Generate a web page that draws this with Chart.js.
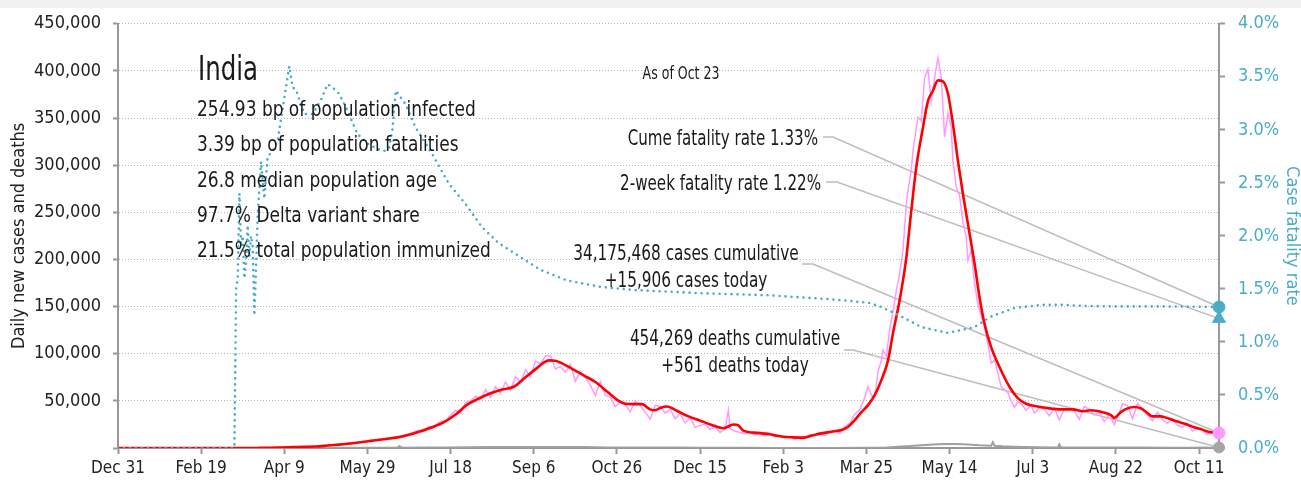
<!DOCTYPE html>
<html>
<head>
<meta charset="utf-8">
<script src="https://cdn.jsdelivr.net/npm/chart.js@4.4.0/dist/chart.umd.min.js"></script>
<style>
  html, body { margin: 0; padding: 0; background: #fff; }
  #wrap { width: 1301px; height: 484px; }
</style>
</head>
<body>
<div id="wrap"><canvas id="chart" width="1301" height="484"></canvas></div>
<script>
// day 0 = Dec 31 2019, last day = Oct 23 2021
const lastDay = 662;
const tickLabels = ['Dec 31', 'Feb 19', 'Apr 9', 'May 29', 'Jul 18', 'Sep 6', 'Oct 26',
  'Dec 15', 'Feb 3', 'Mar 25', 'May 14', 'Jul 3', 'Aug 22', 'Oct 11'];

// [day, 7-day average of new cases]
const avgCases = [[0,0],[63,0],[70,10],[77,20],[84,70],[91,170],[98,500],[105,900],[112,1300],
  [119,1600],[126,2600],[133,3600],[140,4800],[147,6300],[154,7900],[161,9600],[168,11300],
  [175,14000],[182,17700],[189,22000],[196,27400],[203,35500],[210,46000],[217,52500],
  [224,58000],[231,62000],[238,65000],[245,75000],[252,85000],[256,90500],[259,93000],
  [263,92500],[266,90500],[273,84000],[280,77000],[287,70000],[294,60000],[301,50000],
  [305,47000],[310,46500],[315,46500],[320,41000],[323,40000],[326,42500],[330,44000],
  [336,39500],[343,33500],[350,29000],[357,24500],[364,21000],[366,22000],[370,25000],
  [373,24000],[376,18500],[385,16000],[392,14500],[400,12000],[406,11300],[412,11000],
  [417,13000],[423,15500],[429,17300],[435,19000],[439,22600],[443,29600],[447,38000],
  [451,45500],[455,56000],[459,72000],[463,93000],[466,122000],[470,157000],[474,202000],
  [477,252000],[480,298000],[484,340000],[487,368000],[490,379000],[493,390000],[496,389000],
  [499,376000],[502,344000],[505,305000],[508,270000],[511,238000],[515,196000],[518,160000],
  [521,132000],[525,107000],[530,86000],[536,65000],[541,53000],[546,47000],[553,44000],
  [560,42000],[567,41000],[574,41000],[580,39000],[585,40000],[592,38000],[597,35000],
  [599,32000],[603,38000],[607,42000],[611,43500],[615,42000],[619,37000],[622,33500],
  [627,33500],[632,31000],[637,28000],[642,25500],[647,22000],[652,19500],[656,17000],
  [659,16500],[662,16500]];

// [day, reported new cases]
const dailyCases = [[0,0],[30,0],[60,0],[70,10],[80,20],[90,150],[95,500],[100,600],[104,1000],
  [108,1200],[112,1300],[116,1500],[120,1700],[124,2500],[128,3300],[132,3500],[136,4200],
  [140,5500],[144,6200],[148,6600],[152,8400],[156,9000],[160,9800],[164,11000],[168,11500],
  [172,13500],[176,15400],[180,18500],[184,19100],[187,22500],[190,23000],[194,28500],
  [197,29000],[200,34800],[203,40200],[206,37100],[209,48500],[212,49900],[215,55000],
  [218,52000],[221,62000],[224,53600],[227,65000],[230,57900],[233,70000],[236,61400],
  [239,75700],[242,69900],[245,83000],[248,75800],[251,92000],[254,89700],[257,97600],
  [260,98000],[263,83800],[266,86500],[269,80500],[272,88600],[275,70600],[278,81400],
  [281,74400],[284,66700],[287,55300],[290,70500],[293,55700],[296,54000],[299,43900],
  [302,48600],[305,46200],[308,38300],[311,50200],[314,44900],[317,38000],[320,30500],
  [323,45200],[326,44400],[329,37000],[332,41300],[335,31100],[338,36600],[341,26600],
  [344,32000],[347,22000],[350,24000],[353,25100],[356,19500],[359,22300],[362,16400],
  [365,20000],[367,40000],[368,20500],[371,18100],[374,16500],[377,15200],[380,16900],
  [383,13800],[386,15200],[389,12700],[392,14500],[395,11800],[398,12900],[401,11000],
  [404,12100],[407,9100],[410,11600],[413,10500],[416,14200],[419,13200],[422,16600],
  [425,13000],[428,17400],[431,18700],[434,15400],[437,22800],[440,26300],[443,35900],
  [446,40700],[449,53500],[451,65000],[453,56200],[455,54000],[457,81500],[459,93200],
  [460,104000],[462,97000],[464,126000],[466,145000],[468,167000],[470,185000],[472,210000],
  [474,259000],[475,273000],[477,295000],[478,315000],[480,340000],[481,351000],[483,347000],
  [485,393000],[487,402000],[489,368000],[491,393000],[493,414000],[495,393000],[497,330000],
  [499,355000],[501,340000],[502,305000],[504,277000],[506,268000],[508,240000],[510,224000],
  [511,199000],[513,210000],[515,174000],[517,153000],[519,140000],[521,128000],[523,111000],
  [525,90000],[527,93000],[529,80000],[531,65000],[533,62000],[535,59000],[537,50000],
  [539,43000],[541,49000],[543,47000],[546,40000],[549,46000],[551,37000],[554,43000],
  [557,41000],[560,34000],[563,42000],[566,30000],[569,41000],[572,43000],[575,39000],
  [578,30500],[581,44000],[584,41000],[587,35000],[590,38000],[593,28000],[596,36000],
  [599,25000],[602,37000],[604,47000],[607,45000],[610,31000],[613,47000],[616,42000],
  [619,35000],[622,29000],[625,38000],[628,30000],[631,26000],[634,31000],[637,24000],
  [640,22000],[643,26000],[646,18000],[649,21000],[652,19000],[655,14300],[658,18400],
  [660,16800],[662,15906]];

// [day, reported new deaths]
const dailyDeaths = [[0,0],[70,0],[84,5],[98,40],[112,40],[126,100],[140,140],[154,220],
  [168,330],[169,2000],[171,340],[182,420],[196,550],[210,750],[224,950],[238,1000],
  [252,1100],[259,1150],[266,1100],[280,950],[294,650],[308,500],[322,500],[336,450],
  [350,350],[364,260],[378,180],[392,130],[406,100],[420,100],[434,120],[448,250],
  [462,650],[469,1300],[476,2000],[483,3000],[490,3800],[497,4200],[504,4200],[511,3800],
  [518,3000],[525,2500],[526,6100],[527,2400],[532,1800],[539,1300],[546,1000],[553,800],
  [565,600],[566,3900],[567,600],[574,550],[588,500],[602,450],[616,400],[630,300],
  [644,250],[655,550],[656,300],[662,561]];

// [day, cumulative case fatality rate %]
const fatalityRate = [[0,0],[70,0],[71,1.5],[72,1.6],[73,2.4],[74,1.9],[75,2.0],[76,1.6],
  [77,1.75],[78,2.1],[79,1.8],[80,2.0],[81,1.9],[82,1.25],[83,1.7],[84,2.2],[86,2.7],
  [88,2.35],[90,2.75],[93,2.8],[96,2.9],[99,3.2],[103,3.6],[105,3.4],[107,3.38],[110,3.24],
  [112,3.15],[117,3.15],[122,3.28],[126,3.43],[129,3.4],[133,3.34],[138,3.18],[144,2.96],
  [150,2.87],[156,2.82],[160,2.8],[163,2.83],[165,3.0],[167,3.37],[173,3.24],[179,3.02],
  [189,2.77],[199,2.49],[209,2.3],[219,2.08],[229,1.93],[239,1.83],[242,1.8],[254,1.68],
  [270,1.58],[290,1.52],[310,1.49],[350,1.46],[391,1.44],[431,1.4],[451,1.37],[459,1.33],
  [471,1.24],[483,1.14],[499,1.085],[515,1.14],[525,1.24],[539,1.32],[555,1.35],[569,1.35],
  [579,1.34],[599,1.335],[630,1.335],[662,1.33]];

const twoWeekRate = 1.22;
const cumCases = 34175468;
const cumDeaths = 454269;
const country = 'India';
const statLines = [
  '254.93 bp of population infected',
  '3.39 bp of population fatalities',
  '26.8 median population age',
  '97.7% Delta variant share',
  '21.5% total population immunized'
];
const asOf = 'As of Oct 23';

const FONT = '"DejaVu Sans Condensed", "DejaVu Sans", sans-serif';
const TEAL = '#4bacc6';
const PINK = '#ff99ff';

const toXY = arr => arr.map(([d, v]) => ({ x: d, y: v }));
const last = arr => arr[arr.length - 1][1];
const fmt = n => n.toLocaleString('en-US');

Chart.defaults.font.family = FONT;
Chart.defaults.color = '#222';

// narrow the text horizontally so it reads like a condensed face
function label(c, text, x, y, align, size, squeeze) {
  c.save();
  c.translate(x, y);
  c.scale(squeeze, 1);
  c.font = size + 'px ' + FONT;
  c.textAlign = align;
  c.fillText(text, 0, 0);
  c.restore();
}

const notes = {
  id: 'notes',
  beforeDraw(chart) {
    const c = chart.ctx;
    c.save();
    c.fillStyle = '#f0f0f0';
    c.fillRect(0, 0, chart.width, 8);
    c.restore();
  },
  beforeDatasetsDraw(chart) {
    const c = chart.ctx, sx = chart.scales.x, sy = chart.scales.y, sr = chart.scales.y1;
    const ex = sx.getPixelForValue(lastDay);
    const leaders = [
      [823, 137, 833, sr.getPixelForValue(last(fatalityRate))],
      [826, 182, 837, sr.getPixelForValue(twoWeekRate)],
      [802, 264, 813, sy.getPixelForValue(last(dailyCases))],
      [844, 350, 853, sy.getPixelForValue(last(dailyDeaths))]
    ];
    c.save();
    c.strokeStyle = '#bdbdbd';
    c.lineWidth = 1.5;
    leaders.forEach(([x0, y0, x1, ey]) => {
      c.beginPath();
      c.moveTo(x0, y0);
      c.lineTo(x1, y0);
      c.lineTo(ex, ey);
      c.stroke();
    });
    c.restore();
  },
  afterDraw(chart) {
    const c = chart.ctx;
    c.save();
    c.fillStyle = '#1a1a1a';
    c.textBaseline = 'alphabetic';
    label(c, country, 198, 80, 'left', 34, 0.8);
    statLines.forEach((t, i) => label(c, t, 197, 116 + i * 35.3, 'left', 21, 0.9));

    label(c, asOf, 681, 79, 'center', 17, 0.82);

    label(c, 'Cume fatality rate ' + last(fatalityRate).toFixed(2) + '%', 818, 145, 'right', 21, 0.8);
    label(c, '2-week fatality rate ' + twoWeekRate.toFixed(2) + '%', 821, 190, 'right', 21, 0.8);

    label(c, fmt(cumCases) + ' cases cumulative', 686, 260, 'center', 21, 0.81);
    label(c, '+' + fmt(last(dailyCases)) + ' cases today', 686, 287, 'center', 21, 0.81);
    label(c, fmt(cumDeaths) + ' deaths cumulative', 735, 345, 'center', 21, 0.81);
    label(c, '+' + fmt(last(dailyDeaths)) + ' deaths today', 735, 372, 'center', 21, 0.81);
    c.restore();
  }
};

new Chart(document.getElementById('chart').getContext('2d'), {
  type: 'line',
  data: {
    datasets: [
      {
        type: 'scatter', yAxisID: 'y1', clip: false,
        data: [{ x: lastDay, y: last(fatalityRate) }],
        pointStyle: 'circle', pointRadius: 6, backgroundColor: TEAL, borderColor: TEAL
      },
      {
        type: 'scatter', yAxisID: 'y1', clip: false,
        data: [{ x: lastDay, y: twoWeekRate }],
        pointStyle: 'triangle', pointRadius: 7.5, backgroundColor: TEAL, borderColor: TEAL
      },
      {
        type: 'scatter', yAxisID: 'y', clip: false,
        data: [{ x: lastDay, y: last(dailyCases) }],
        pointStyle: 'circle', pointRadius: 6, backgroundColor: PINK, borderColor: PINK
      },
      {
        type: 'scatter', yAxisID: 'y', clip: false,
        data: [{ x: lastDay, y: last(dailyDeaths) }],
        pointStyle: 'circle', pointRadius: 5.5, backgroundColor: '#a6a6a6', borderColor: '#a6a6a6'
      },
      {
        label: 'Case fatality rate', yAxisID: 'y1',
        data: toXY(fatalityRate),
        borderColor: TEAL, borderWidth: 2.6, borderDash: [0, 6], borderCapStyle: 'round',
        pointRadius: 0, tension: 0
      },
      {
        label: '7-day average', yAxisID: 'y',
        data: toXY(avgCases),
        borderColor: '#ff0000', borderWidth: 2.6, pointRadius: 0,
        cubicInterpolationMode: 'monotone'
      },
      {
        label: 'New cases', yAxisID: 'y',
        data: toXY(dailyCases),
        borderColor: PINK, borderWidth: 1.5, pointRadius: 0, tension: 0
      },
      {
        label: 'New deaths', yAxisID: 'y',
        data: toXY(dailyDeaths),
        borderColor: '#a0a0a0', borderWidth: 2, pointRadius: 0, tension: 0
      }
    ]
  },
  options: {
    responsive: false,
    animation: false,
    devicePixelRatio: 1,
    layout: { padding: { top: 23, left: 0, right: 0, bottom: 0 } },
    plugins: { legend: { display: false }, tooltip: { enabled: false } },
    scales: {
      x: {
        type: 'linear', min: 0, max: lastDay,
        afterFit(s) { s.height = 36; },
        border: { color: '#999', width: 2 },
        grid: { drawOnChartArea: false, tickLength: 6, tickColor: '#999', tickWidth: 2 },
        ticks: {
          stepSize: 50, includeBounds: false, autoSkip: false, maxRotation: 0, padding: 4,
          color: '#222', font: { size: 17 },
          callback: v => tickLabels[v / 50] || ''
        }
      },
      y: {
        position: 'left', min: 0, max: 450000,
        afterFit(s) { s.width = 118; },
        border: { color: '#999', width: 2, dash: [1, 2] },
        grid: { color: '#b5b5b5', lineWidth: 1, tickLength: 5, tickColor: '#999', tickWidth: 2, tickBorderDash: [] },
        ticks: {
          stepSize: 50000, padding: 12, color: '#222', font: { size: 18 },
          callback: v => v === 0 ? '' : fmt(v)
        },
        title: {
          display: true, text: 'Daily new cases and deaths', color: '#222',
          font: { size: 18, lineHeight: 1.2 }, padding: { top: 9, bottom: 0 }
        }
      },
      y1: {
        position: 'right', min: 0, max: 4,
        afterFit(s) { s.width = 82; },
        border: { color: '#999', width: 2 },
        grid: { drawOnChartArea: false, tickLength: 6, tickColor: '#999', tickWidth: 2 },
        ticks: {
          stepSize: 0.5, padding: 13, color: TEAL, font: { size: 18 },
          callback: v => v.toFixed(1) + '%'
        },
        title: {
          display: true, text: 'Case fatality rate', color: TEAL,
          font: { size: 18, lineHeight: 1 }, padding: { top: 0, bottom: 0 }
        }
      }
    }
  },
  plugins: [notes]
});
</script>
</body>
</html>
